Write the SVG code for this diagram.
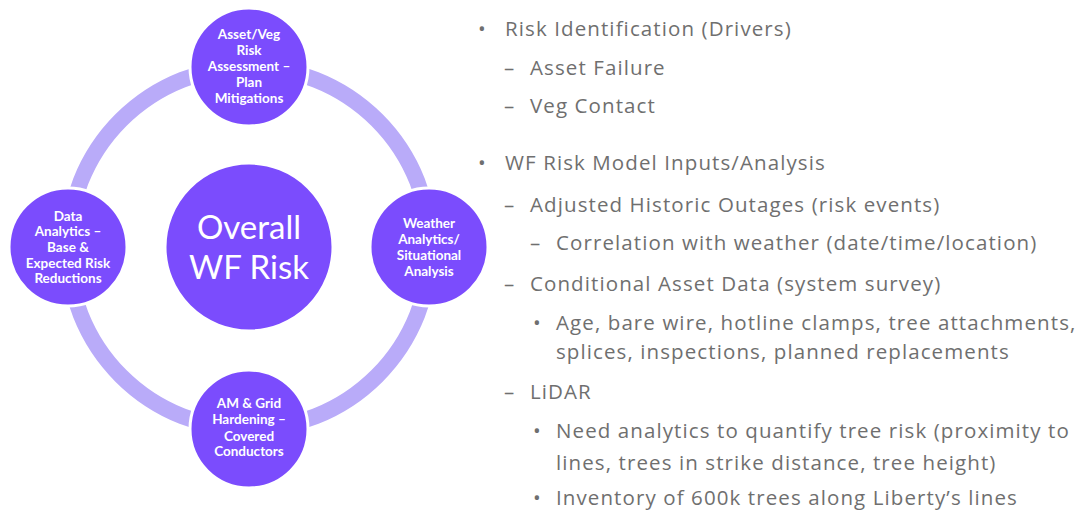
<svg xmlns="http://www.w3.org/2000/svg" width="1081" height="510" viewBox="0 0 1081 510">
<style>
.node{fill:#7b4cfd;stroke:#ffffff;stroke-width:3}
.nt{font-family:Lato,"Liberation Sans",sans-serif;font-size:13.5px;font-weight:bold;fill:#ffffff;text-anchor:middle}
.ct{font-family:Lato,"Liberation Sans",sans-serif;font-size:33px;fill:#ffffff;text-anchor:middle}
.ring{fill:none;stroke:#b9abf9;stroke-width:16}
.r{font-family:"Open Sans","Liberation Sans",sans-serif;font-size:20.5px;letter-spacing:1.1px;fill:#6f6f6f}
</style>
<rect width="1081" height="510" fill="#ffffff"/>
<g id="connectors">
<circle class="ring" cx="249" cy="248" r="181"/>
</g>
<g id="center">
<circle class="node" cx="249" cy="247" r="84"/>
<text class="ct" x="249" y="239">Overall</text>
<text class="ct" x="249" y="279">WF Risk</text>
</g>
<g id="top">
<circle class="node" cx="249" cy="67" r="59"/>
<text class="nt" x="249" y="39">Asset/Veg</text>
<text class="nt" x="249" y="55">Risk</text>
<text class="nt" x="249" y="71">Assessment –</text>
<text class="nt" x="249" y="87">Plan</text>
<text class="nt" x="249" y="103">Mitigations</text>
</g>
<g id="left">
<circle class="node" cx="68" cy="247" r="59"/>
<text class="nt" x="68" y="221">Data</text>
<text class="nt" x="68" y="236">Analytics –</text>
<text class="nt" x="68" y="252">Base &amp;</text>
<text class="nt" x="68" y="268">Expected Risk</text>
<text class="nt" x="68" y="283">Reductions</text>
</g>
<g id="right">
<circle class="node" cx="429" cy="247" r="59"/>
<text class="nt" x="429" y="228">Weather</text>
<text class="nt" x="429" y="244">Analytics/</text>
<text class="nt" x="429" y="260">Situational</text>
<text class="nt" x="429" y="276">Analysis</text>
</g>
<g id="bottom">
<circle class="node" cx="249" cy="429" r="59"/>
<text class="nt" x="249" y="408">AM &amp; Grid</text>
<text class="nt" x="249" y="424">Hardening –</text>
<text class="nt" x="249" y="441">Covered</text>
<text class="nt" x="249" y="456">Conductors</text>
</g>
<g id="bullets">
<text class="r" x="478" y="36">•</text>
<text class="r" x="505" y="36">Risk Identification (Drivers)</text>
<text class="r" x="504" y="75">–</text>
<text class="r" x="530" y="75">Asset Failure</text>
<text class="r" x="504" y="113">–</text>
<text class="r" x="530" y="113">Veg Contact</text>
<text class="r" x="478" y="170">•</text>
<text class="r" x="505" y="170">WF Risk Model Inputs/Analysis</text>
<text class="r" x="504" y="212">–</text>
<text class="r" x="530" y="212">Adjusted Historic Outages (risk events)</text>
<text class="r" x="530" y="250">–</text>
<text class="r" x="556" y="250">Correlation with weather (date/time/location)</text>
<text class="r" x="504" y="291">–</text>
<text class="r" x="530" y="291">Conditional Asset Data (system survey)</text>
<text class="r" x="533" y="330">•</text>
<text class="r" x="556" y="330">Age, bare wire, hotline clamps, tree attachments,</text>
<text class="r" x="556" y="359">splices, inspections, planned replacements</text>
<text class="r" x="504" y="399">–</text>
<text class="r" x="530" y="399">LiDAR</text>
<text class="r" x="533" y="438">•</text>
<text class="r" x="556" y="438">Need analytics to quantify tree risk (proximity to</text>
<text class="r" x="556" y="470">lines, trees in strike distance, tree height)</text>
<text class="r" x="533" y="505">•</text>
<text class="r" x="556" y="505">Inventory of 600k trees along Liberty’s lines</text>
</g>
</svg>
